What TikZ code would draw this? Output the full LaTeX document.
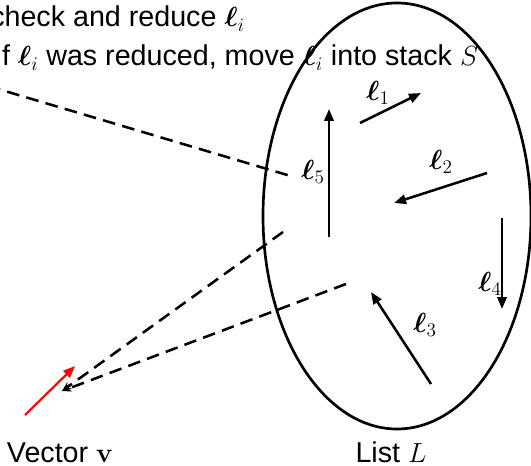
\documentclass[tikz,border=0pt]{standalone}
\usepackage[no-math]{fontspec}
\setmainfont{Liberation Sans}
\usepackage{amsmath,bm}
\usetikzlibrary{arrows.meta}
\begin{document}
\begin{tikzpicture}[x=0.75pt,y=-0.75pt,
  every node/.style={font=\fontsize{21.5}{25}\selectfont, inner sep=0pt},
  vecarrow/.style={line width=1.9pt, -{Triangle[length=9pt,width=7pt]}},
  dashline/.style={line width=1.9pt, dash pattern=on 9.5pt off 5.5pt},
  dashtip/.style={-{Stealth[length=7pt,width=6pt]}},
  lbl/.style={anchor=center}]
\useasboundingbox (0,0) rectangle (531,466);
% list ellipse
\draw[line width=2pt] (397,216) ellipse (134 and 213);
\coordinate (Lc) at (397,216);
% vectors in list
\coordinate (a1) at (360,123); \coordinate (b1) at (421,93);
\coordinate (a2) at (487,173); \coordinate (b2) at (394,203);
\coordinate (a3) at (431,384); \coordinate (b3) at (371,292);
\coordinate (a4) at (502,218); \coordinate (b4) at (502,309);
\coordinate (a5) at (329,237); \coordinate (b5) at (329,109);
\draw[vecarrow] (a1) -- (b1);
\draw[vecarrow] (a2) -- (b2);
\draw[vecarrow] (a3) -- (b3);
\draw[vecarrow] (a4) -- (b4);
\draw[vecarrow] (a5) -- (b5);
\node[lbl] (l1) at (378,93) {$\bm{\ell}_1$};
\node[lbl] (l2) at (441,162) {$\bm{\ell}_2$};
\node[lbl] (l3) at (425,325) {$\bm{\ell}_3$};
\node[lbl] (l4) at (490,284) {$\bm{\ell}_4$};
\node[lbl] (l5) at (313,172) {$\bm{\ell}_5$};
% dashed connectors
\coordinate (t0) at (-12,86);
\coordinate (t1) at (294,177);
\coordinate (m1) at (283,232);
\coordinate (n1) at (346,284);
\coordinate (v0) at (62,391);
\draw[dashline] (t0) -- (t1);
\draw[dashline,dashtip] (m1) -- (v0);
\draw[dashline,dashtip] (n1) -- (v0);
% red vector
\coordinate (r0) at (25,415);
\coordinate (r1) at (75,366);
\draw[red, line width=1.6pt, -{Triangle[length=9pt,width=7pt]}] (r0) -- (r1);
% texts
\node[anchor=base west] (txt1) at (-10,27) {check and reduce $\bm{\ell}_i$};
\node[anchor=base west] (txt2) at (-6,66) {If $\bm{\ell}_i$ was reduced, move $\bm{\ell}_i$ into stack $S$};
\node[anchor=base] (vv) at (60,462) {Vector $\mathbf{v}$};
\node[anchor=base] (ll) at (391,462) {List $L$};
\end{tikzpicture}
\end{document}
